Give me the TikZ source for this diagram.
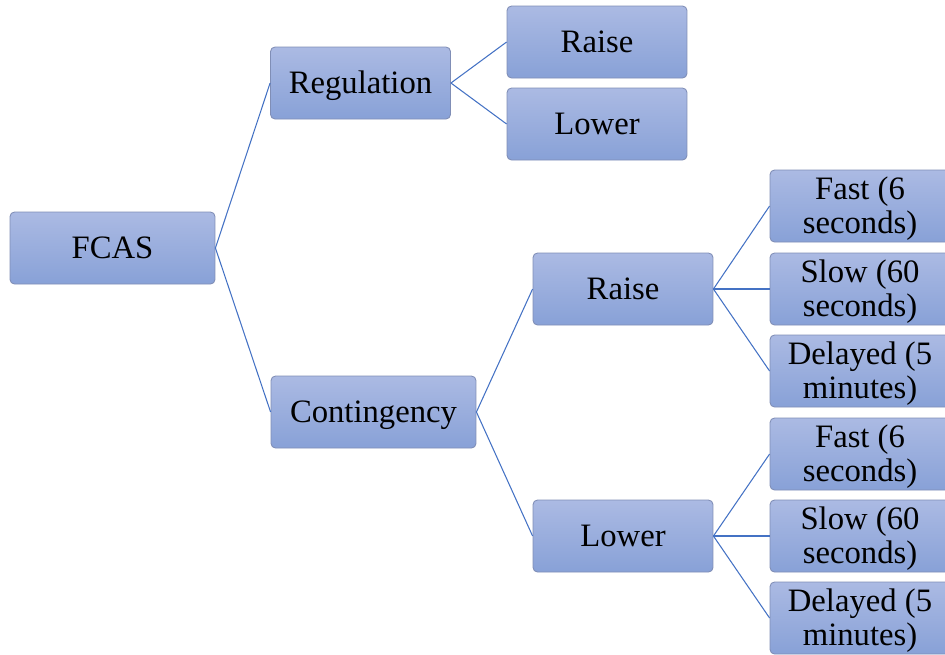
\documentclass[tikz,border=0pt]{standalone}
\usepackage{fontspec}
\setmainfont{Liberation Serif}
\definecolor{boxtop}{RGB}{171,186,227}
\definecolor{boxbot}{RGB}{136,161,215}
\definecolor{boxline}{RGB}{128,142,182}
\definecolor{linkblue}{RGB}{68,114,196}
\tikzset{
  box/.style={draw=boxline, line width=0.5pt, rounded corners=0.09cm,
    top color=boxtop, bottom color=boxbot, minimum width=3.6cm,
    minimum height=1.44cm, align=center, inner sep=1pt,
    font=\fontsize{18.6}{19.5}\selectfont,
    text height=16.3pt, text depth=4pt},
  widebox/.style={box, minimum width=4.1cm},
  twobox/.style={box, text height=34.8pt, text depth=3pt},
  link/.style={draw=linkblue, line width=0.6pt}
}
\begin{document}
\begin{tikzpicture}[x=0.02cm,y=-0.02cm]
        \useasboundingbox (0,0) rectangle (945,654);
        \clip (0,0) rectangle (945,654);

        \node[widebox] (fcas) at (112.5,248) {FCAS};
        \node[box] (reg) at (360.5,83) {Regulation};
        \node[widebox] (cont) at (373.5,412) {Contingency};

        \node[box] (regraise) at (597,42) {Raise};
        \node[box] (reglower) at (597,124) {Lower};
        \node[box] (contraise) at (623,289) {Raise};
        \node[box] (contlower) at (623,536) {Lower};

        \node[twobox] (fastr) at (860,206) {Fast (6\\seconds)};
        \node[twobox] (slowr) at (860,289) {Slow (60\\seconds)};
        \node[twobox] (delayr) at (860,371) {Delayed (5\\minutes)};
        \node[twobox] (fastl) at (860,454) {Fast (6\\seconds)};
        \node[twobox] (slowl) at (860,536) {Slow (60\\seconds)};
        \node[twobox] (delayl) at (860,618) {Delayed (5\\minutes)};

        \draw[link] (fcas.east) -- (reg.west);
        \draw[link] (fcas.east) -- (cont.west);
        \draw[link] (reg.east) -- (regraise.west);
        \draw[link] (reg.east) -- (reglower.west);
        \draw[link] (cont.east) -- (contraise.west);
        \draw[link] (cont.east) -- (contlower.west);
        \foreach \n in {fastr,slowr,delayr}
          \draw[link] (contraise.east) -- (\n.west);
        \foreach \n in {fastl,slowl,delayl}
          \draw[link] (contlower.east) -- (\n.west);

\end{tikzpicture}
\end{document}
